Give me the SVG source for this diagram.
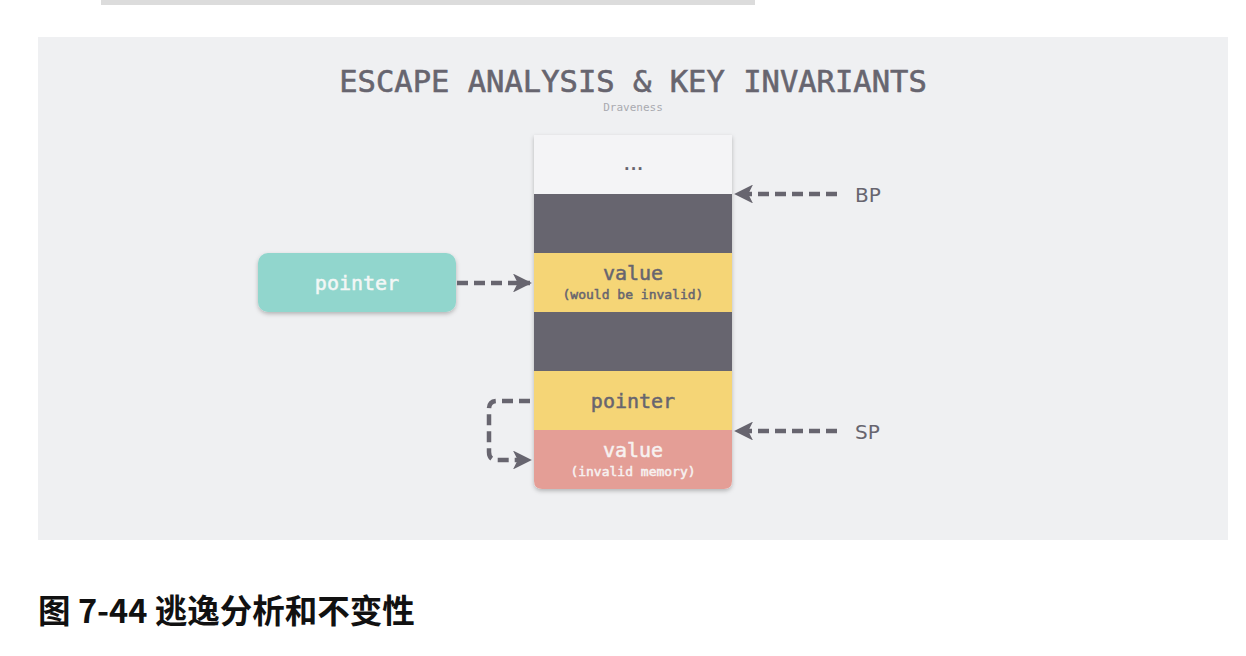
<svg xmlns="http://www.w3.org/2000/svg" width="1246" height="656" viewBox="0 0 1246 656">
<style>
.mono{font-family:"DejaVu Sans Mono","Liberation Mono",monospace}
.med{stroke-width:0.5}
.lbl{font-family:"DejaVu Sans","Liberation Sans",sans-serif;font-size:20px;fill:#67656f}
.dash{fill:none;stroke:#67656f;stroke-width:4.5;stroke-dasharray:11,6}
</style>
<defs>
<marker id="ah" viewBox="0 0 10 10" refX="9" refY="5" markerWidth="4.2" markerHeight="4.2" orient="auto" markerUnits="strokeWidth">
<path d="M0,0 L10,5 L0,10 L2.5,5 Z" fill="#67656f"/>
</marker>
<filter id="sh" x="-10%" y="-10%" width="120%" height="130%">
<feDropShadow dx="0" dy="2" stdDeviation="2" flood-color="#000" flood-opacity="0.25"/>
</filter>
<clipPath id="stackclip">
<path d="M534,135 H732 V481 Q732,489 724,489 H542 Q534,489 534,481 Z"/>
</clipPath>
</defs>
<rect x="0" y="0" width="1246" height="656" fill="#ffffff"/>
<rect x="101" y="0" width="654" height="5" fill="#dcdcdc"/>
<rect x="38" y="37" width="1190" height="503" fill="#eff0f2"/>
<text x="633" y="92" text-anchor="middle" class="mono" font-size="30.5" fill="#67656f" stroke="#67656f" stroke-width="0.6">ESCAPE ANALYSIS &amp; KEY INVARIANTS</text>
<text x="633" y="111" text-anchor="middle" class="mono" font-size="11" fill="#a9aab0">Draveness</text>

<g id="stack">
<path d="M534,135 H732 V481 Q732,489 724,489 H542 Q534,489 534,481 Z" fill="#f4f4f6" filter="url(#sh)"/>
<g clip-path="url(#stackclip)">
<rect x="534" y="135" width="198" height="59" fill="#f4f4f6"/>
<rect x="534" y="194" width="198" height="59" fill="#67656f"/>
<rect x="534" y="253" width="198" height="59" fill="#f5d576"/>
<rect x="534" y="312" width="198" height="59" fill="#67656f"/>
<rect x="534" y="371" width="198" height="59" fill="#f5d576"/>
<rect x="534" y="430" width="198" height="59" fill="#e49e96"/>
</g>
<text x="632" y="170" text-anchor="middle" class="mono" font-size="16" letter-spacing="-3" font-weight="bold" fill="#67656f">...</text>
<text x="633" y="280" text-anchor="middle" class="mono med" font-size="20" fill="#67656f" stroke="#67656f">value</text>
<text x="633" y="299" text-anchor="middle" class="mono med" font-size="13" fill="#67656f" stroke="#67656f">(would be invalid)</text>
<text x="633" y="408" text-anchor="middle" class="mono med" font-size="20" fill="#67656f" stroke="#67656f">pointer</text>
<text x="633" y="457" text-anchor="middle" class="mono med" font-size="20" fill="#f7f1f0" stroke="#f7f1f0">value</text>
<text x="633" y="476" text-anchor="middle" class="mono med" font-size="13" fill="#f7f1f0" stroke="#f7f1f0">(invalid memory)</text>
</g>

<g id="pointer-node">
<rect x="258" y="253" width="198" height="59" rx="10" fill="#91d6cd" filter="url(#sh)"/>
<text x="357" y="290" text-anchor="middle" class="mono med" font-size="20" fill="#f3f7f6" stroke="#f3f7f6">pointer</text>
</g>

<g id="bp-label"><text x="855" y="202" class="lbl">BP</text></g>
<g id="sp-label"><text x="855" y="439" class="lbl">SP</text></g>

<g id="connectors">
<path class="dash" d="M457,283 H530" marker-end="url(#ah)"/>
<path class="dash" d="M837,194 H736" marker-end="url(#ah)"/>
<path class="dash" d="M837,431 H736" marker-end="url(#ah)"/>
<path class="dash" d="M530,401 H497 Q489,401 489,409 V452 Q489,460 497,460 H530" marker-end="url(#ah)"/>
</g>

<text x="38" y="623" font-family="'Noto Sans CJK SC','Noto Sans',sans-serif" font-weight="bold" font-size="32.5" fill="#111">图 7-44 逃逸分析和不变性</text>
</svg>
